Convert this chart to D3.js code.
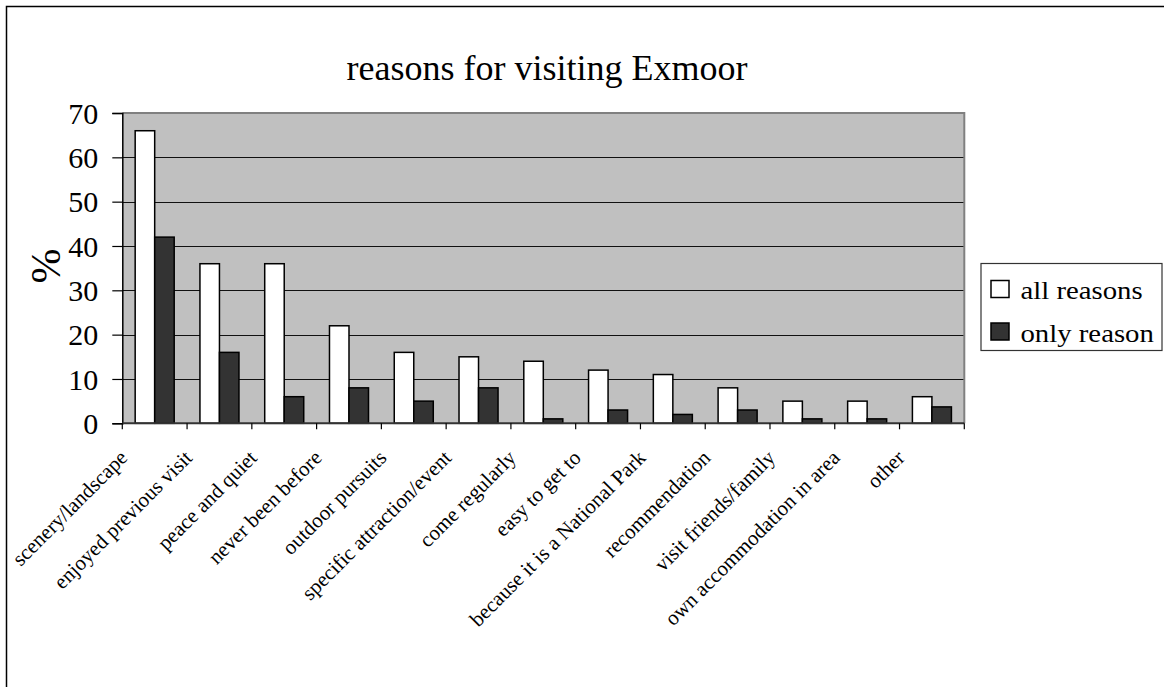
<!DOCTYPE html>
<html>
<head>
<meta charset="utf-8">
<script src="https://cdn.jsdelivr.net/npm/d3@7"></script>
<style>
  html, body { margin: 0; padding: 0; background: #fff; }
  svg { display: block; }
  text { font-family: "Liberation Serif", "Times New Roman", serif; fill: #000; }
</style>
</head>
<body>
<svg id="chart" width="1164" height="687"></svg>
<script>
// Survey results: reasons given for visiting Exmoor (%)
const categories = [
  "scenery/landscape", "enjoyed previous visit", "peace and quiet",
  "never been before", "outdoor pursuits", "specific attraction/event",
  "come regularly", "easy to get to", "because it is a National Park",
  "recommendation", "visit friends/family", "own accommodation in area", "other"
];
const seriesNames = ["all reasons", "only reason"];
const allReasons  = [66, 36, 36, 22, 16, 15, 14, 12, 11, 8, 5, 5, 6];
const onlyReason  = [42, 16, 6, 8, 5, 8, 1, 3, 2, 3, 1, 1, 3.7];
const yTicks = [0, 10, 20, 30, 40, 50, 60, 70];

const seriesValues = [allReasons, onlyReason];
const fills = ["#ffffff", "#333333"];

const svg = d3.select("#chart");

// outer chart frame
svg.append("rect")
  .attr("x", 6.5).attr("y", 6.5)
  .attr("width", 1180).attr("height", 700)
  .attr("fill", "#fff").attr("stroke", "#000").attr("stroke-width", 1.5);

const plot = { left: 122.3, right: 964.3, top: 113, bottom: 423.3 };

const x0 = d3.scaleBand().domain(categories).range([plot.left, plot.right]).padding(0);
const x1 = d3.scaleBand().domain(seriesNames).range([0, x0.bandwidth()])
  .paddingInner(0).paddingOuter(0.66);
const y = d3.scaleLinear().domain([0, 70]).range([plot.bottom, plot.top]);

// plot area background
svg.append("rect")
  .attr("x", plot.left).attr("y", plot.top)
  .attr("width", plot.right - plot.left).attr("height", plot.bottom - plot.top)
  .attr("fill", "#c0c0c0");

// horizontal gridlines
svg.append("g").selectAll("line")
  .data(yTicks.filter(d => d > 0 && d < 70))
  .join("line")
  .attr("x1", plot.left).attr("x2", plot.right)
  .attr("y1", d => Math.round(y(d)) + 0.5).attr("y2", d => Math.round(y(d)) + 0.5)
  .attr("stroke", "#111").attr("stroke-width", 1);

// plot area top and right border
svg.append("path")
  .attr("d", `M${plot.left},${plot.top} H${plot.right} V${plot.bottom}`)
  .attr("fill", "none").attr("stroke", "#808080").attr("stroke-width", 2);

// bars
const groups = svg.append("g").selectAll("g")
  .data(categories)
  .join("g")
  .attr("transform", d => `translate(${x0(d)},0)`);

groups.selectAll("rect")
  .data((d, i) => seriesNames.map((s, k) => ({ s, k, v: seriesValues[k][i] })))
  .join("rect")
  .attr("x", d => x1(d.s))
  .attr("y", d => y(d.v))
  .attr("width", x1.bandwidth())
  .attr("height", d => y(0) - y(d.v))
  .attr("fill", d => fills[d.k])
  .attr("stroke", "#000")
  .attr("stroke-width", 1.5);

// y axis
const yAxis = d3.axisLeft(y).tickValues(yTicks).tickSize(10).tickPadding(14)
  .tickFormat(d3.format("d"));
const gy = svg.append("g").attr("transform", `translate(${plot.left},0)`).call(yAxis);
gy.select(".domain").attr("stroke", "#000").attr("stroke-width", 1.5);
gy.selectAll(".tick line").attr("stroke", "#000").attr("stroke-width", 1.2);
gy.selectAll(".tick text")
  .attr("font-size", 30).attr("font-family", "Liberation Serif, serif")
  .attr("dy", "0.34em");

// x axis (tick marks at category boundaries)
const gx = svg.append("g").attr("transform", `translate(0,${plot.bottom})`);
gx.append("line")
  .attr("x1", plot.left).attr("x2", plot.right)
  .attr("stroke", "#333").attr("stroke-width", 2);
gx.selectAll(".tick")
  .data(d3.range(categories.length + 1))
  .join("line")
  .attr("x1", i => plot.left + i * x0.step())
  .attr("x2", i => plot.left + i * x0.step())
  .attr("y1", 0).attr("y2", 6)
  .attr("stroke", "#000").attr("stroke-width", 1.2);

// rotated category labels
svg.append("g").selectAll("text")
  .data(categories)
  .join("text")
  .attr("transform", d => `translate(${x0(d) + x0.bandwidth() / 2 - 26},459) rotate(-45)`)
  .attr("text-anchor", "end")
  .attr("font-size", 21)
  .text(d => d);

// y axis title
svg.append("text")
  .attr("transform", "translate(60,266) rotate(-90)")
  .attr("text-anchor", "middle")
  .attr("font-size", 42)
  .text("%");

// chart title
svg.append("text")
  .attr("x", 547).attr("y", 80)
  .attr("text-anchor", "middle")
  .attr("font-size", 36)
  .text("reasons for visiting Exmoor");

// legend
const legend = svg.append("g").attr("transform", "translate(981,263.5)");
legend.append("rect")
  .attr("width", 181).attr("height", 87)
  .attr("fill", "#fff").attr("stroke", "#333").attr("stroke-width", 1.2);
const items = legend.selectAll("g.item")
  .data(seriesNames)
  .join("g").attr("class", "item")
  .attr("transform", (d, i) => `translate(10,${17 + i * 42.5})`);
items.append("rect")
  .attr("width", 18).attr("height", 17)
  .attr("fill", (d, i) => fills[i])
  .attr("stroke", "#000").attr("stroke-width", 1.5);
items.append("text")
  .attr("transform", "translate(29.5,18.5) scale(1.15,1)")
  .attr("font-size", 25)
  .text(d => d);
</script>
</body>
</html>
